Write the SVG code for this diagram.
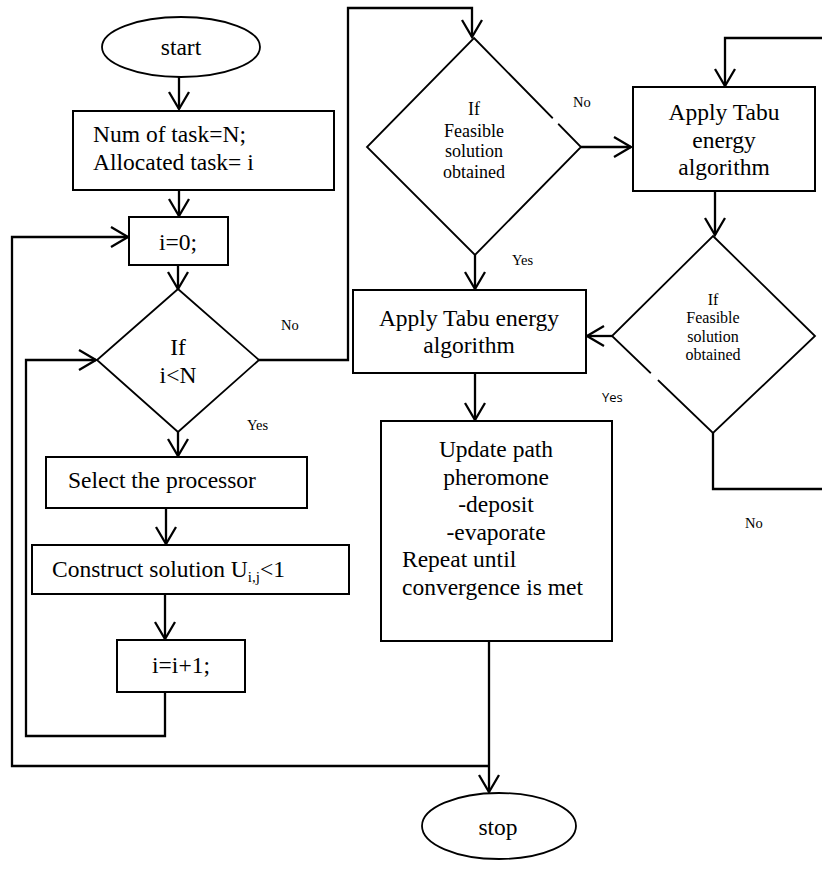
<svg xmlns="http://www.w3.org/2000/svg" width="822" height="873" viewBox="0 0 822 873">
<style>
.n{fill:#fff;stroke:#000;stroke-width:2}
.d{fill:#fff;stroke:#000;stroke-width:1.8}
.c{fill:none;stroke:#000;stroke-width:2.3}
.t{font-family:"Liberation Serif","Times New Roman",serif;font-size:23.5px;fill:#000}
.m{text-anchor:middle}
.s{font-family:"Liberation Serif","Times New Roman",serif;font-size:14.5px;fill:#000}
.f2{font-family:"Liberation Serif","Times New Roman",serif;font-size:18px;fill:#000;text-anchor:middle}
.f3{font-family:"Liberation Serif","Times New Roman",serif;font-size:16px;fill:#000;text-anchor:middle}
</style>
<defs>
<marker id="a" markerUnits="userSpaceOnUse" markerWidth="22" markerHeight="26" viewBox="0 0 22 26" refX="18" refY="12" orient="auto">
<path d="M1,2 L18,12 L1,22" fill="none" stroke="#000" stroke-width="2.3"/>
</marker>
</defs>
<rect width="822" height="873" fill="#fff"/>

<g id="connectors">
<path class="c" d="M179,77 V109" marker-end="url(#a)"/>
<path class="c" d="M179,190 V216" marker-end="url(#a)"/>
<path class="c" d="M178,265 V289" marker-end="url(#a)"/>
<path class="c" d="M178,432 V456" marker-end="url(#a)"/>
<path class="c" d="M166,508 V544" marker-end="url(#a)"/>
<path class="c" d="M165,594 V639" marker-end="url(#a)"/>
<path class="c" d="M165,692 V736 H26 V360 H96" marker-end="url(#a)"/>
<path class="c" d="M259,360 H348 V8 H472 V37" marker-end="url(#a)"/>
<path class="c" d="M581,147 H631" marker-end="url(#a)"/>
<path class="c" d="M715,191 V235" marker-end="url(#a)"/>
<path class="c" d="M612,336 H587" marker-end="url(#a)"/>
<path class="c" d="M475,255 V289" marker-end="url(#a)"/>
<path class="c" d="M475,373 V420" marker-end="url(#a)"/>
<path class="c" d="M489,641 V792" marker-end="url(#a)"/>
<path class="c" d="M489,766 H12 V237 H128" marker-end="url(#a)"/>
<path class="c" d="M713,433 V489 H826 V38 H725 V86" marker-end="url(#a)"/>
</g>

<g id="start">
<ellipse class="d" cx="181" cy="47" rx="79" ry="30"/>
<text class="t m" x="181" y="55">start</text>
</g>

<g id="init">
<rect class="n" x="73" y="111" width="261" height="79"/>
<text class="t" x="93" y="142">Num of task=N;</text>
<text class="t" x="93" y="170">Allocated task= i</text>
</g>

<g id="i0">
<rect class="n" x="129" y="217" width="99" height="48"/>
<text class="t m" x="178" y="250">i=0;</text>
</g>

<g id="cond1">
<polygon class="d" points="178,289 259,360 178,432 97,360"/>
<text class="t m" x="178" y="355">If</text>
<text class="t m" x="178" y="383">i&lt;N</text>
<text class="s" x="281" y="330">No</text>
<text class="s" x="247" y="430">Yes</text>
</g>

<g id="select">
<rect class="n" x="46" y="457" width="261" height="51"/>
<text class="t" x="68" y="488">Select the processor</text>
</g>

<g id="construct">
<rect class="n" x="32" y="545" width="317" height="49"/>
<text class="t" x="52" y="577">Construct solution U<tspan font-size="15" dy="5">i,j</tspan><tspan dy="-5">&lt;1</tspan></text>
</g>

<g id="inc">
<rect class="n" x="117" y="640" width="128" height="52"/>
<text class="t m" x="181" y="673">i=i+1;</text>
</g>

<g id="cond2">
<polygon class="d" points="474,38 581,147 475,255 367,147"/>
<line x1="553" y1="118" x2="558.5" y2="123.5" stroke="#fff" stroke-width="4"/>
<text class="f2" x="474" y="115">If</text>
<text class="f2" x="474" y="137">Feasible</text>
<text class="f2" x="474" y="157">solution</text>
<text class="f2" x="474" y="178">obtained</text>
<text class="s" x="573" y="107">No</text>
<text class="s" x="512" y="265">Yes</text>
</g>

<g id="tabu1">
<rect class="n" x="633" y="87" width="182" height="104"/>
<text class="t m" x="724" y="120">Apply Tabu</text>
<text class="t m" x="724" y="148">energy</text>
<text class="t m" x="724" y="175">algorithm</text>
</g>

<g id="cond3">
<polygon class="d" points="713,236 815,336 713,433 612,336"/>
<line x1="651" y1="373" x2="658" y2="380" stroke="#fff" stroke-width="4"/>
<text class="f3" x="713" y="305">If</text>
<text class="f3" x="713" y="323">Feasible</text>
<text class="f3" x="713" y="342">solution</text>
<text class="f3" x="713" y="360">obtained</text>
<text x="602" y="402" font-family="'Open Sans','Liberation Sans',sans-serif" font-size="13px">Yes</text>
<text class="s" x="745" y="528">No</text>
</g>

<g id="tabu2">
<rect class="n" x="353" y="290" width="233" height="83"/>
<text class="t m" x="469" y="326">Apply Tabu energy</text>
<text class="t m" x="469" y="353">algorithm</text>
</g>

<g id="update">
<rect class="n" x="381" y="421" width="231" height="220"/>
<text class="t m" x="496" y="457">Update path</text>
<text class="t m" x="496" y="485">pheromone</text>
<text class="t m" x="496" y="512">-deposit</text>
<text class="t m" x="496" y="540">-evaporate</text>
<text class="t" x="402" y="567">Repeat until</text>
<text class="t" x="402" y="595">convergence is met</text>
</g>

<g id="stop">
<ellipse class="d" cx="499" cy="826" rx="77" ry="33"/>
<text class="t m" x="498" y="835">stop</text>
</g>
</svg>
